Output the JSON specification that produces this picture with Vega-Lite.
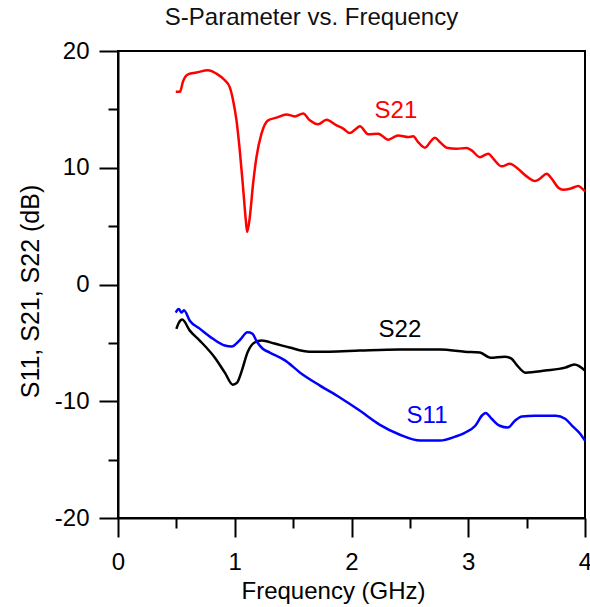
{
  "$schema": "https://vega.github.io/schema/vega-lite/v6.json",
  "width": 467,
  "height": 467,
  "autosize": {"type": "none"},
  "padding": {"left": 118, "top": 51, "right": 5, "bottom": 89},
  "background": "white",
  "config": {
    "view": {"stroke": "black", "strokeWidth": 2},
    "font": "Liberation Sans"
  },
  "title": {
    "text": "S-Parameter vs. Frequency",
    "fontSize": 24,
    "fontWeight": "normal",
    "color": "#111111",
    "font": "Liberation Sans",
    "anchor": "middle",
    "frame": "group",
    "dx": -40,
    "dy": 25,
    "baseline": "bottom",
    "offset": 10
  },
  "datasets": {
    "curves": [
      {"s": "S21", "f": 0.495, "db": 16.5},
      {"s": "S21", "f": 0.53, "db": 16.5},
      {"s": "S21", "f": 0.557, "db": 17.4},
      {"s": "S21", "f": 0.6, "db": 18.0},
      {"s": "S21", "f": 0.672, "db": 18.15},
      {"s": "S21", "f": 0.771, "db": 18.35},
      {"s": "S21", "f": 0.843, "db": 18.06},
      {"s": "S21", "f": 0.915, "db": 17.49},
      {"s": "S21", "f": 0.957, "db": 16.9},
      {"s": "S21", "f": 0.986, "db": 15.77},
      {"s": "S21", "f": 1.015, "db": 14.06},
      {"s": "S21", "f": 1.043, "db": 11.49},
      {"s": "S21", "f": 1.071, "db": 8.34},
      {"s": "S21", "f": 1.095, "db": 5.49},
      {"s": "S21", "f": 1.106, "db": 4.49},
      {"s": "S21", "f": 1.129, "db": 5.77},
      {"s": "S21", "f": 1.157, "db": 8.63},
      {"s": "S21", "f": 1.186, "db": 10.91},
      {"s": "S21", "f": 1.229, "db": 12.92},
      {"s": "S21", "f": 1.286, "db": 14.06},
      {"s": "S21", "f": 1.358, "db": 14.29},
      {"s": "S21", "f": 1.443, "db": 14.57},
      {"s": "S21", "f": 1.515, "db": 14.4},
      {"s": "S21", "f": 1.586, "db": 14.65},
      {"s": "S21", "f": 1.643, "db": 14.06},
      {"s": "S21", "f": 1.714, "db": 13.72},
      {"s": "S21", "f": 1.786, "db": 14.12},
      {"s": "S21", "f": 1.872, "db": 13.63},
      {"s": "S21", "f": 1.929, "db": 13.35},
      {"s": "S21", "f": 1.986, "db": 12.97},
      {"s": "S21", "f": 2.029, "db": 13.26},
      {"s": "S21", "f": 2.072, "db": 13.55},
      {"s": "S21", "f": 2.143, "db": 12.86},
      {"s": "S21", "f": 2.229, "db": 12.92},
      {"s": "S21", "f": 2.314, "db": 12.4},
      {"s": "S21", "f": 2.4, "db": 12.77},
      {"s": "S21", "f": 2.486, "db": 12.63},
      {"s": "S21", "f": 2.529, "db": 12.69},
      {"s": "S21", "f": 2.571, "db": 12.2},
      {"s": "S21", "f": 2.629, "db": 11.72},
      {"s": "S21", "f": 2.686, "db": 12.35},
      {"s": "S21", "f": 2.714, "db": 12.57},
      {"s": "S21", "f": 2.757, "db": 12.2},
      {"s": "S21", "f": 2.815, "db": 11.72},
      {"s": "S21", "f": 2.9, "db": 11.63},
      {"s": "S21", "f": 2.986, "db": 11.69},
      {"s": "S21", "f": 3.029, "db": 11.49},
      {"s": "S21", "f": 3.1, "db": 10.91},
      {"s": "S21", "f": 3.171, "db": 11.2},
      {"s": "S21", "f": 3.214, "db": 10.78},
      {"s": "S21", "f": 3.286, "db": 10.12},
      {"s": "S21", "f": 3.357, "db": 10.35},
      {"s": "S21", "f": 3.415, "db": 10.0},
      {"s": "S21", "f": 3.5, "db": 9.26},
      {"s": "S21", "f": 3.572, "db": 8.86},
      {"s": "S21", "f": 3.614, "db": 9.06},
      {"s": "S21", "f": 3.672, "db": 9.49},
      {"s": "S21", "f": 3.715, "db": 9.06},
      {"s": "S21", "f": 3.772, "db": 8.29},
      {"s": "S21", "f": 3.814, "db": 8.12},
      {"s": "S21", "f": 3.872, "db": 8.2},
      {"s": "S21", "f": 3.943, "db": 8.43},
      {"s": "S21", "f": 3.986, "db": 8.12},
      {"s": "S21", "f": 4.0, "db": 8.0},

      {"s": "S22", "f": 0.5, "db": -3.8},
      {"s": "S22", "f": 0.52, "db": -3.3},
      {"s": "S22", "f": 0.55, "db": -3.0},
      {"s": "S22", "f": 0.615, "db": -3.95},
      {"s": "S22", "f": 0.7, "db": -4.8},
      {"s": "S22", "f": 0.83, "db": -6.27},
      {"s": "S22", "f": 0.915, "db": -7.55},
      {"s": "S22", "f": 0.983, "db": -8.58},
      {"s": "S22", "f": 1.02, "db": -8.4},
      {"s": "S22", "f": 1.06, "db": -7.4},
      {"s": "S22", "f": 1.11, "db": -5.8},
      {"s": "S22", "f": 1.17, "db": -4.97},
      {"s": "S22", "f": 1.23, "db": -4.8},
      {"s": "S22", "f": 1.34, "db": -5.06},
      {"s": "S22", "f": 1.47, "db": -5.4},
      {"s": "S22", "f": 1.64, "db": -5.75},
      {"s": "S22", "f": 1.81, "db": -5.75},
      {"s": "S22", "f": 2.07, "db": -5.66},
      {"s": "S22", "f": 2.41, "db": -5.57},
      {"s": "S22", "f": 2.76, "db": -5.57},
      {"s": "S22", "f": 2.97, "db": -5.75},
      {"s": "S22", "f": 3.1, "db": -5.83},
      {"s": "S22", "f": 3.19, "db": -6.27},
      {"s": "S22", "f": 3.31, "db": -6.18},
      {"s": "S22", "f": 3.37, "db": -6.35},
      {"s": "S22", "f": 3.42, "db": -6.95},
      {"s": "S22", "f": 3.49, "db": -7.55},
      {"s": "S22", "f": 3.66, "db": -7.37},
      {"s": "S22", "f": 3.83, "db": -7.12},
      {"s": "S22", "f": 3.91, "db": -6.86},
      {"s": "S22", "f": 4.0, "db": -7.37},

      {"s": "S11", "f": 0.495, "db": -2.4},
      {"s": "S11", "f": 0.52, "db": -2.1},
      {"s": "S11", "f": 0.545, "db": -2.4},
      {"s": "S11", "f": 0.565, "db": -2.2},
      {"s": "S11", "f": 0.615, "db": -3.1},
      {"s": "S11", "f": 0.7, "db": -3.78},
      {"s": "S11", "f": 0.81, "db": -4.63},
      {"s": "S11", "f": 0.915, "db": -5.23},
      {"s": "S11", "f": 0.975, "db": -5.31},
      {"s": "S11", "f": 1.04, "db": -4.8},
      {"s": "S11", "f": 1.11, "db": -4.1},
      {"s": "S11", "f": 1.15, "db": -4.2},
      {"s": "S11", "f": 1.19, "db": -4.9},
      {"s": "S11", "f": 1.24, "db": -5.5},
      {"s": "S11", "f": 1.3, "db": -5.83},
      {"s": "S11", "f": 1.43, "db": -6.5},
      {"s": "S11", "f": 1.56, "db": -7.55},
      {"s": "S11", "f": 1.73, "db": -8.66},
      {"s": "S11", "f": 1.9, "db": -9.68},
      {"s": "S11", "f": 2.07, "db": -10.8},
      {"s": "S11", "f": 2.24, "db": -12.0},
      {"s": "S11", "f": 2.41, "db": -12.85},
      {"s": "S11", "f": 2.59, "db": -13.37},
      {"s": "S11", "f": 2.76, "db": -13.37},
      {"s": "S11", "f": 2.89, "db": -13.03},
      {"s": "S11", "f": 2.97, "db": -12.7},
      {"s": "S11", "f": 3.06, "db": -12.1},
      {"s": "S11", "f": 3.12, "db": -11.2},
      {"s": "S11", "f": 3.15, "db": -11.0},
      {"s": "S11", "f": 3.2, "db": -11.5},
      {"s": "S11", "f": 3.27, "db": -12.1},
      {"s": "S11", "f": 3.34, "db": -12.25},
      {"s": "S11", "f": 3.4, "db": -11.67},
      {"s": "S11", "f": 3.46, "db": -11.3},
      {"s": "S11", "f": 3.57, "db": -11.25},
      {"s": "S11", "f": 3.75, "db": -11.25},
      {"s": "S11", "f": 3.83, "db": -11.5},
      {"s": "S11", "f": 3.89, "db": -12.1},
      {"s": "S11", "f": 3.96, "db": -12.8},
      {"s": "S11", "f": 4.0, "db": -13.37}
    ],
    "labels": [
      {"s": "S21", "f": 2.38, "db": 14.85},
      {"s": "S22", "f": 2.415, "db": -3.94},
      {"s": "S11", "f": 2.647, "db": -11.3}
    ]
  },
  "layer": [
    {
      "data": {"name": "curves"},
      "mark": {"type": "line", "strokeWidth": 2.5, "interpolate": "monotone"},
      "encoding": {
        "x": {
          "field": "f",
          "type": "quantitative",
          "scale": {"domain": [0, 4], "nice": false},
          "axis": {
            "title": "Frequency (GHz)",
            "values": [0, 0.5, 1, 1.5, 2, 2.5, 3, 3.5, 4],
            "grid": false,
            "domainColor": "black",
            "domainWidth": 2,
            "tickColor": "black",
            "tickWidth": 2,
            "tickSize": {"condition": {"test": "datum.value % 1 === 0", "value": 19}, "value": 10},
            "labelExpr": "datum.value % 1 === 0 ? '' + datum.value : ''",
            "labelFont": "Liberation Sans",
            "labelFontSize": 24,
            "labelColor": "black",
            "labelPadding": 13,
            "labelFlush": false,
            "titleFont": "Liberation Sans",
            "titleFontSize": 24,
            "titleFontWeight": "normal",
            "titleColor": "black",
            "titlePadding": 5,
            "titleX": 215
          }
        },
        "y": {
          "field": "db",
          "type": "quantitative",
          "scale": {"domain": [-20, 20], "nice": false},
          "axis": {
            "title": "S11, S21, S22 (dB)",
            "values": [-20, -15, -10, -5, 0, 5, 10, 15, 20],
            "grid": false,
            "domainColor": "black",
            "domainWidth": 2,
            "tickColor": "black",
            "tickWidth": 2,
            "tickSize": {"condition": {"test": "datum.value % 10 === 0", "value": 19}, "value": 10},
            "labelExpr": "datum.value % 10 === 0 ? '' + datum.value : ''",
            "labelFont": "Liberation Sans",
            "labelFontSize": 24,
            "labelColor": "black",
            "labelPadding": 10,
            "labelFlush": false,
            "titleFont": "Liberation Sans",
            "titleFontSize": 25,
            "titleFontWeight": "normal",
            "titleColor": "black",
            "titlePadding": 11,
            "titleY": 240
          }
        },
        "color": {
          "field": "s",
          "type": "nominal",
          "scale": {"domain": ["S11", "S21", "S22"], "range": ["#0000ff", "#ff0000", "#000000"]},
          "legend": null
        },
        "detail": {"field": "s"}
      }
    },
    {
      "data": {"name": "labels"},
      "mark": {"type": "text", "font": "Liberation Sans", "fontSize": 24, "align": "center", "baseline": "middle"},
      "encoding": {
        "x": {"field": "f", "type": "quantitative"},
        "y": {"field": "db", "type": "quantitative"},
        "text": {"field": "s"},
        "color": {
          "field": "s",
          "type": "nominal",
          "scale": {"domain": ["S11", "S21", "S22"], "range": ["#0000ff", "#ff0000", "#000000"]},
          "legend": null
        }
      }
    }
  ]
}
